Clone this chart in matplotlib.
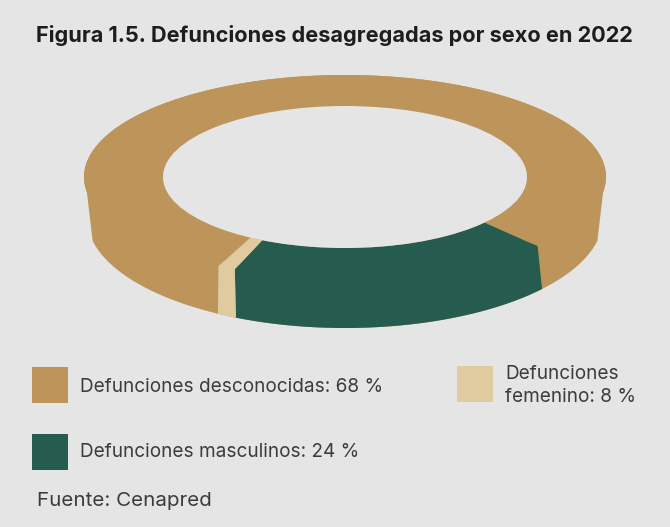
import numpy as np
import matplotlib
matplotlib.use("Agg")
import matplotlib.pyplot as plt
from matplotlib.patches import Rectangle, Ellipse

plt.rcParams["font.family"] = ["Inter", "DejaVu Sans"]

# legend entries, clockwise from the right edge of the ring
labels = ["Defunciones desconocidas: 68 %", "Defunciones masculinos: 24 %", "Defunciones\nfemenino: 8 %"]
colors = ["#BD955A", "#265C4F", "#E0CAA0"]

# the drawn slices do not follow the printed shares, so the cuts are read off the picture (degrees)
cuts_outer = [-42.6, -115.0, -119.0]
cuts_inner = [-40.0, -117.0, -121.3]
cuts_lower = [-40.2, -115.0, -119.5]

bg = "#E5E5E5"
# ellipses: (cx, cy, a, b) in pixels
outer = (345, 177, 261, 102)
inner = (345, 177, 182, 71)
lower = (345, 218, 258, 110)
under = (345, 172, 261, 102)  # walls start a bit under the top face so no seam shows


def arc(ell, start, end, n=120):
    t = np.radians(np.linspace(start, end, n))
    cx, cy, a, b = ell
    # y axis of the plot runs downwards, so negative angles fall on the front
    return np.column_stack([cx + a * np.cos(t), cy - b * np.sin(t)])


def band(ax, ell1, ell2, s1, e1, s2, e2, color):
    pts = np.vstack([arc(ell1, s1, e1), arc(ell2, e2, s2)])
    ax.fill(pts[:, 0], pts[:, 1], color=color, lw=0, zorder=2)


fig = plt.figure(figsize=(6.70, 5.27), dpi=100, facecolor=bg)
ax = fig.add_axes([0, 0, 1, 1])
ax.set_xlim(0, 670)
ax.set_ylim(527, 0)
ax.axis("off")

# side wall, tapers in towards the lower ellipse
wall = np.vstack([arc(outer, -8.5, 188.5), arc(lower, -168, -12)])
ax.fill(wall[:, 0], wall[:, 1], color=colors[0], lw=0, zorder=1)
band(ax, under, lower, cuts_outer[0], cuts_outer[1], cuts_lower[0], cuts_lower[1], colors[1])
band(ax, under, lower, cuts_outer[1], cuts_outer[2], cuts_lower[1], cuts_lower[2], colors[2])

# top face, brown runs the long way round
band(ax, outer, inner, cuts_outer[2], cuts_outer[0] - 360, cuts_inner[2], cuts_inner[0] - 360, colors[0])
band(ax, outer, inner, cuts_outer[0], cuts_outer[1], cuts_inner[0], cuts_inner[1], colors[1])
band(ax, outer, inner, cuts_outer[1], cuts_outer[2], cuts_inner[1], cuts_inner[2], colors[2])
ax.add_patch(Ellipse((inner[0], inner[1]), 2 * inner[2], 2 * inner[3], color=bg, lw=0, zorder=3))

ax.text(334, 35, "Figura 1.5. Defunciones desagregadas por sexo en 2022", ha="center", va="center",
        fontsize=15.6, fontweight="bold", color="#1D1D1B")

# legend
ax.add_patch(Rectangle((32, 367), 36, 36, color=colors[0], lw=0))
ax.add_patch(Rectangle((32, 434), 36, 36, color=colors[1], lw=0))
ax.add_patch(Rectangle((457, 366), 36, 36, color=colors[2], lw=0))
ax.text(80, 387, labels[0], va="center", fontsize=13.65, color="#3C3C3B")
ax.text(80, 452, labels[1], va="center", fontsize=13.65, color="#3C3C3B")
ax.text(505, 385.5, labels[2], va="center", fontsize=13.65, color="#3C3C3B", linespacing=1.32)
ax.text(37, 501.5, "Fuente: Cenapred", va="center", fontsize=14.8, color="#3C3C3B")

fig.savefig("out.png", dpi=100, facecolor=bg)
